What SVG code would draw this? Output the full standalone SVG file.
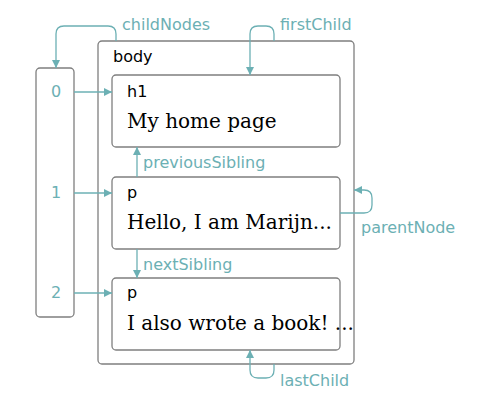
<svg xmlns="http://www.w3.org/2000/svg" width="481" height="413" viewBox="0 0 481 413">
  <style>
    .box { fill: #ffffff; stroke: #7f7f7f; stroke-width: 1.3; }
    .tag { font-family: "DejaVu Sans", sans-serif; font-size: 16px; fill: #000000; }
    .content { font-family: "DejaVu Serif", serif; font-size: 20px; fill: #000000; }
    .lbl { font-family: "DejaVu Sans", sans-serif; font-size: 16px; fill: #6cb0b4; }
    .idx { font-family: "DejaVu Sans", sans-serif; font-size: 16px; fill: #6cb0b4; text-anchor: middle; }
    .conn { fill: none; stroke: #6cb0b4; stroke-width: 1.3; marker-end: url(#arrow); }
  </style>
  <defs>
    <marker id="arrow" viewBox="0 0 10 10" refX="10" refY="5" markerWidth="8" markerHeight="8" markerUnits="userSpaceOnUse" orient="auto">
      <path d="M0,0 L10,5 L0,10 z" fill="#6cb0b4"/>
    </marker>
  </defs>

  <!-- childNodes array -->
  <g id="childNodes-array">
    <rect class="box" x="36" y="68" width="38" height="249" rx="4"/>
    <text class="idx" x="56" y="97">0</text>
    <text class="idx" x="56" y="198">1</text>
    <text class="idx" x="56" y="298">2</text>
  </g>

  <!-- body element -->
  <g id="body">
    <rect class="box" x="98" y="41" width="256" height="323" rx="4"/>
    <text class="tag" x="113" y="62">body</text>
  </g>

  <g id="h1">
    <rect class="box" x="112" y="75" width="228" height="72" rx="4"/>
    <text class="tag" x="127" y="97">h1</text>
    <text class="content" x="127" y="128">My home page</text>
  </g>

  <g id="p1">
    <rect class="box" x="112" y="177" width="228" height="72" rx="4"/>
    <text class="tag" x="127" y="198">p</text>
    <text class="content" x="127" y="229">Hello, I am Marijn...</text>
  </g>

  <g id="p2">
    <rect class="box" x="112" y="278" width="228" height="72" rx="4"/>
    <text class="tag" x="127" y="298">p</text>
    <text class="content" x="127" y="330">I also wrote a book! ...</text>
  </g>

  <!-- pointers between nodes -->
  <g id="connectors">
    <path class="conn" d="M116,41 V34 Q116,26 108,26 H64 Q56,26 56,34 V68"/>
    <path class="conn" d="M274,41 V34 Q274,26 266,26 H258 Q250,26 250,34 V75"/>
    <path class="conn" d="M74,92 H112"/>
    <path class="conn" d="M74,193 H112"/>
    <path class="conn" d="M74,293 H112"/>
    <path class="conn" d="M137,177 V147"/>
    <path class="conn" d="M137,249 V278"/>
    <path class="conn" d="M340,213 H364 Q372,213 372,205 V198 Q372,190 364,190 H354"/>
    <path class="conn" d="M274,364 V370 Q274,378 266,378 H258 Q250,378 250,370 V350"/>
  </g>

  <g id="labels">
    <text class="lbl" x="122" y="30">childNodes</text>
    <text class="lbl" x="280" y="30">firstChild</text>
    <text class="lbl" x="143" y="168">previousSibling</text>
    <text class="lbl" x="143" y="270">nextSibling</text>
    <text class="lbl" x="361" y="233">parentNode</text>
    <text class="lbl" x="280" y="386">lastChild</text>
  </g>
</svg>
